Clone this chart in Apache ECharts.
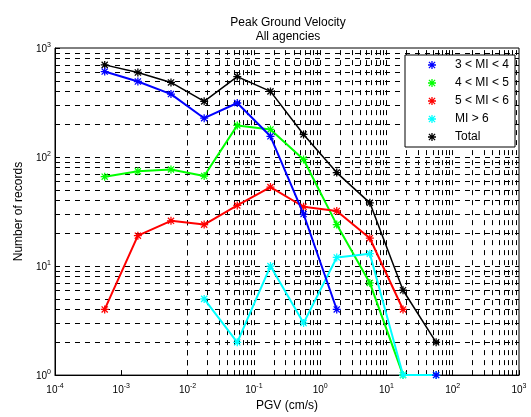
<!DOCTYPE html>
<html>
<head>
<meta charset="utf-8">
<script src="https://cdn.jsdelivr.net/npm/echarts@6/dist/echarts.min.js"></script>
<style>
  html, body { margin: 0; padding: 0; background: #fff; }
  #chart { width: 531px; height: 417px; }
</style>
</head>
<body>
<div id="chart"></div>
<script>
// PGV bin centres (cm/s)
const pgv = [5.62e-4, 1.78e-3, 5.62e-3, 0.0178, 0.0562, 0.178, 0.562, 1.78, 5.62, 17.8, 56.2]
// number of records per magnitude class (0 = nothing plotted on the log axis)
const mi34 = [608, 493, 378, 227, 313, 155, 30, 4, 0, 0, 1]
const mi45 = [66, 74, 77, 67, 195, 179, 95, 24, 7, 1, 0]
const mi56 = [4, 19, 26, 24, 36, 53, 35, 32, 18, 4, 0]
const mi6 = [0, 0, 0, 5, 2, 10, 3, 12, 13, 1, 1]
const total = [700, 596, 483, 324, 547, 400, 161, 72, 38, 6, 2]

const xDecades = [-4, -3, -2, -1, 0, 1, 2]
const yDecades = [0, 1, 2]

const font = "'Liberation Sans', Arial, Helvetica, sans-serif"
const star = 'path://M4.2,0 L5.8,0 L5.8,10 L4.2,10 Z M0,4.2 L10,4.2 L10,5.8 L0,5.8 Z ' +
  'M0.6,1.7 L1.7,0.6 L9.4,8.3 L8.3,9.4 Z M8.3,0.6 L9.4,1.7 L1.7,9.4 L0.6,8.3 Z'

function pairs(vals) {
  return pgv.map((x, i) => [x, vals[i] > 0 ? vals[i] : '-'])
}

// grid lines at 1..9 x 10^n (inner only, the box covers the edges)
const gridX = []
xDecades.forEach(e => {
  for (let m = 1; m <= 9; m++) {
    if (e === -4 && m === 1) continue
    gridX.push(m * Math.pow(10, e))
  }
})
const gridY = []
yDecades.forEach(e => {
  for (let m = 1; m <= 9; m++) {
    if (e === 0 && m === 1) continue
    gridY.push(m * Math.pow(10, e))
  }
})

function powLabel(v) {
  const e = Math.round(Math.log10(v))
  return '{b|10}{s|' + e + '}'
}
const labelRich = {
  b: { fontSize: 10, fontFamily: font, color: '#000', verticalAlign: 'bottom' },
  s: { fontSize: 7, fontFamily: font, color: '#000', verticalAlign: 'top', padding: [0, 0, 6, 0] }
}

function lineSeries(name, vals, color, width, z) {
  return {
    name: name,
    type: 'line',
    data: pairs(vals),
    connectNulls: false,
    symbol: star,
    symbolSize: 8,
    z: z,
    itemStyle: { color: color },
    lineStyle: { color: color, width: width },
    animation: false
  }
}

const chart = echarts.init(document.getElementById('chart'))
const option = {
  backgroundColor: '#fff',
  title: {
    text: 'Peak Ground Velocity\nAll agencies',
    left: 283,
    top: 11,
    textAlign: 'center',
    textStyle: { fontSize: 12, fontWeight: 'normal', fontFamily: font, color: '#000', lineHeight: 14 }
  },
  legend: {
    orient: 'vertical',
    left: 405,
    top: 55,
    z: 100,
    padding: [3, 6, 3, 23],
    itemGap: 4,
    itemWidth: 8,
    itemHeight: 8,
    backgroundColor: '#fff',
    borderColor: '#000',
    borderWidth: 1,
    borderRadius: 0,
    textStyle: { fontSize: 12, fontFamily: font, color: '#000', lineHeight: 14, padding: [0, 0, 0, 14] },
    data: [
      { name: '3 < MI < 4', icon: star },
      { name: '4 < MI < 5', icon: star },
      { name: '5 < MI < 6', icon: star },
      { name: 'MI > 6', icon: star },
      { name: 'Total', icon: star }
    ]
  },
  grid: {
    left: 55,
    right: 12,
    top: 48,
    bottom: 40,
    show: true,
    borderColor: '#000',
    borderWidth: 1
  },
  xAxis: {
    type: 'log',
    logBase: 10,
    min: 1e-4,
    max: 1e3,
    splitNumber: 7,
    name: 'PGV (cm/s)',
    nameLocation: 'middle',
    nameGap: 24,
    nameTextStyle: { fontSize: 12, fontFamily: font, color: '#000' },
    axisLine: { lineStyle: { color: '#000', width: 1 } },
    axisTick: { inside: true, length: 5, lineStyle: { color: '#000' } },
    axisLabel: { margin: 7, formatter: powLabel, rich: labelRich },
    splitLine: { show: false }
  },
  yAxis: {
    type: 'log',
    logBase: 10,
    min: 1,
    max: 1e3,
    splitNumber: 3,
    name: 'Number of records',
    nameLocation: 'middle',
    nameGap: 30,
    nameTextStyle: { fontSize: 12, fontFamily: font, color: '#000' },
    axisLine: { lineStyle: { color: '#000', width: 1 } },
    axisTick: { inside: true, length: 5, lineStyle: { color: '#000' } },
    axisLabel: { margin: 4, formatter: powLabel, rich: labelRich },
    splitLine: { show: false }
  },
  series: [
    {
      name: 'grid',
      type: 'line',
      data: [],
      z: 1,
      silent: true,
      animation: false,
      markLine: {
        silent: true,
        animation: false,
        z: 1,
        symbol: ['none', 'none'],
        label: { show: false },
        lineStyle: { color: '#000', type: [5, 5], width: 1 },
        emphasis: { disabled: true },
        data: gridX.map(v => ({ xAxis: v })).concat(gridY.map(v => ({ yAxis: v })))
      }
    },
    lineSeries('3 < MI < 4', mi34, '#0000ff', 2, 6),
    lineSeries('4 < MI < 5', mi45, '#00ff00', 2, 3),
    lineSeries('5 < MI < 6', mi56, '#ff0000', 2, 3),
    lineSeries('MI > 6', mi6, '#00ffff', 2, 4),
    lineSeries('Total', total, '#000000', 1.5, 5)
  ]
}
chart.setOption(option)
</script>
</body>
</html>
